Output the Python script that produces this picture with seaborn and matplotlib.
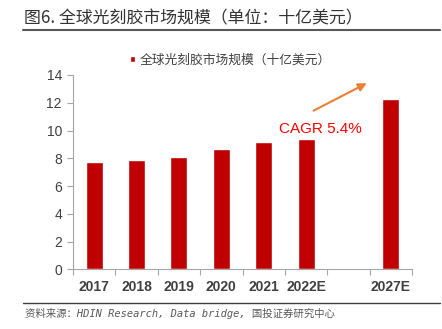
import matplotlib
matplotlib.use("Agg")
import matplotlib.pyplot as plt
import seaborn as sns
import numpy as np

years = ["2017", "2018", "2019", "2020", "2021", "2022E", "2027E"]
values = [7.73, 7.87, 8.07, 8.69, 9.15, 9.41, 12.25]
order = ["2017", "2018", "2019", "2020", "2021", "2022E", " ", "2027E"]
yticks = [0, 2, 4, 6, 8, 10, 12, 14]
title_text = "图6. 全球光刻胶市场规模（单位：十亿美元）"
legend_text = "全球光刻胶市场规模（十亿美元）"
cagr_text = "CAGR 5.4%"
source_text = "资料来源：HDIN Research, Data bridge, 国投证券研究中心"

sns.set_theme(style="white")
plt.rcParams['font.family'] = ['Liberation Sans', 'Noto Sans CJK SC', 'DejaVu Sans']

fig = plt.figure(figsize=(4.42, 3.29), dpi=100)
ax = fig.add_axes([73/442, 1-269.3/329, (412-73)/442, (269.3-75)/329])

bar_color = "#C00000"
sns.barplot(x=years, y=values, order=order, color=bar_color, width=0.4,
            saturation=1, ax=ax, label=legend_text)
if ax.get_legend() is not None:
    ax.get_legend().remove()

ax.set_ylim(0, 14)
ax.set_xlim(-0.5, 7.5)
ax.set_yticks(yticks)
ax.set_yticklabels([str(t) for t in yticks], fontsize=10, color="#404040")
ax.set_xlabel("")
ax.set_ylabel("")
for lab in ax.get_xticklabels():
    lab.set_fontsize(10)
    lab.set_color("#404040")
    lab.set_fontweight("bold")

spine_c = "#A6A6A6"
for s in ["top", "right"]:
    ax.spines[s].set_visible(False)
for s in ["left", "bottom"]:
    ax.spines[s].set_color(spine_c)
    ax.spines[s].set_linewidth(0.8)

ax.tick_params(axis="y", which="major", left=True, length=4, width=0.8, color=spine_c, pad=4)
ax.tick_params(axis="x", which="major", bottom=False, length=0, pad=8)
ax.set_xticks(np.arange(-0.5, 8.0, 1.0), minor=True)
ax.tick_params(axis="x", which="minor", bottom=True, length=4, width=0.8, color=spine_c, direction="out")

# CAGR annotation
ax.annotate("", xy=(6.49, 13.5), xytext=(5.12, 11.34),
            arrowprops=dict(arrowstyle="-|>", color="#ED7D31", lw=1.5, mutation_scale=12))
ax.text(5.34, 10.1, cagr_text, color="#FF0000", fontsize=11, ha="center", va="center")

# Legend
handles = [ax.patches[0]]
leg = fig.legend(handles, [legend_text], loc="center", bbox_to_anchor=(230/442, 1-60/329),
                 frameon=False, handlelength=0.45, handleheight=0.45, handletextpad=0.3,
                 prop={'family': ['Noto Sans CJK SC'], 'size': 9.2})
for t in leg.get_texts():
    t.set_color("#404040")

# Title
fig.text(24/442, 1-18.5/329, title_text, fontsize=12.2, color="#333333", ha="left", va="center",
         family=['Noto Sans CJK SC', 'DejaVu Sans'])
fig.add_artist(plt.Line2D([23/442, 440/442], [1-30/329, 1-30/329], color="#595959", lw=1.5))

# Source
fig.add_artist(plt.Line2D([23/442, 440/442], [1-303/329, 1-303/329], color="#404040", lw=1.0))
fig.text(25/442, 1-313/329, source_text, fontsize=7.5, color="#595959", ha="left", va="center",
         family=['DejaVu Sans Mono', 'Noto Sans CJK SC'], style="italic")

fig.savefig("out.png", dpi=100)
